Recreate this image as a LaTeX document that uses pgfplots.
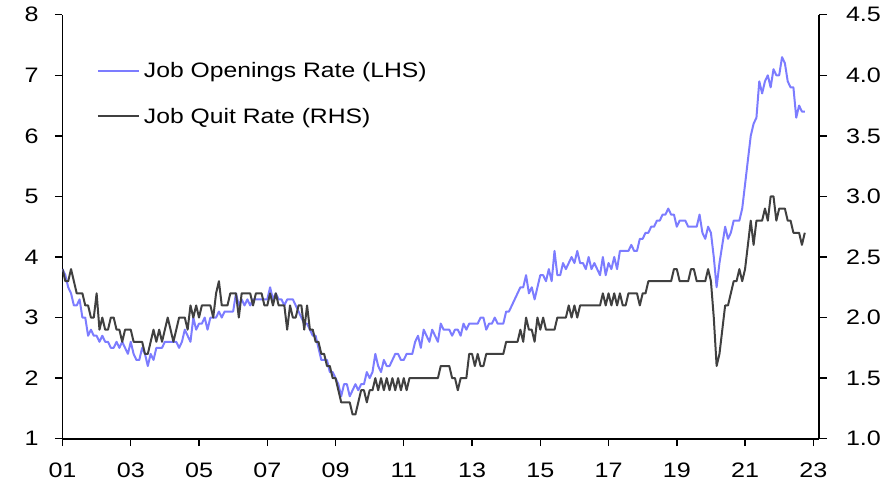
\documentclass[border=0pt]{standalone}
\usepackage{graphicx}
\usepackage{fontspec}
\setmainfont{Liberation Sans}
\usepackage{pgfplots}
\pgfplotsset{compat=1.18}
\usepackage{pgfplotstable}
\definecolor{openblue}{RGB}{124,124,255}
\definecolor{quitgray}{RGB}{64,64,64}
\newcommand{\hs}[1]{\scalebox{1.18}[1.0]{#1}}
\newcommand{\ts}[1]{\scalebox{1.2}[1.0]{#1}}

% m = months since Jan 2001; open = job openings rate (LHS); quit = quit rate (RHS)
\pgfplotstableread{
m open quit
0 3.8 2.4
1 3.7 2.3
2 3.5 2.3
3 3.4 2.4
4 3.2 2.3
5 3.2 2.2
6 3.3 2.2
7 3.0 2.2
8 3.0 2.1
9 2.7 2.1
10 2.8 2.0
11 2.7 2.0
12 2.7 2.2
13 2.6 1.9
14 2.7 2.0
15 2.6 1.9
16 2.6 1.9
17 2.5 2.0
18 2.5 2.0
19 2.6 1.9
20 2.5 1.9
21 2.6 1.8
22 2.5 1.9
23 2.4 1.9
24 2.6 1.9
25 2.4 1.8
26 2.3 1.8
27 2.3 1.8
28 2.5 1.8
29 2.4 1.7
30 2.2 1.7
31 2.4 1.8
32 2.3 1.9
33 2.5 1.8
34 2.5 1.9
35 2.5 1.8
36 2.6 1.9
37 2.6 2.0
38 2.6 1.9
39 2.6 1.8
40 2.6 1.9
41 2.5 2.0
42 2.6 2.0
43 2.8 2.0
44 2.7 1.9
45 2.6 2.1
46 3.0 2.0
47 2.8 2.1
48 2.9 2.0
49 2.9 2.1
50 3.0 2.1
51 2.8 2.1
52 3.0 2.1
53 3.0 2.0
54 3.0 2.2
55 3.1 2.3
56 3.0 2.1
57 3.1 2.1
58 3.1 2.1
59 3.1 2.2
60 3.1 2.2
61 3.4 2.2
62 3.2 2.0
63 3.3 2.2
64 3.2 2.2
65 3.3 2.2
66 3.2 2.2
67 3.3 2.1
68 3.3 2.2
69 3.3 2.2
70 3.3 2.2
71 3.3 2.1
72 3.3 2.1
73 3.5 2.2
74 3.3 2.1
75 3.4 2.2
76 3.3 2.1
77 3.3 2.1
78 3.2 2.1
79 3.3 1.9
80 3.3 2.1
81 3.3 2.0
82 3.2 2.0
83 3.1 2.1
84 3.0 2.1
85 2.9 1.9
86 2.9 2.1
87 2.8 1.9
88 2.7 1.9
89 2.7 1.8
90 2.5 1.8
91 2.3 1.7
92 2.3 1.7
93 2.3 1.6
94 2.1 1.6
95 2.1 1.5
96 2.0 1.5
97 1.9 1.4
98 1.7 1.3
99 1.9 1.3
100 1.9 1.3
101 1.7 1.3
102 1.8 1.2
103 1.9 1.2
104 1.8 1.3
105 1.9 1.4
106 1.9 1.4
107 2.1 1.3
108 2.0 1.4
109 2.1 1.4
110 2.4 1.5
111 2.2 1.4
112 2.1 1.5
113 2.3 1.4
114 2.2 1.5
115 2.2 1.4
116 2.3 1.5
117 2.4 1.4
118 2.4 1.5
119 2.3 1.4
120 2.3 1.5
121 2.4 1.4
122 2.4 1.5
123 2.4 1.5
124 2.6 1.5
125 2.7 1.5
126 2.5 1.5
127 2.8 1.5
128 2.7 1.5
129 2.6 1.5
130 2.8 1.5
131 2.7 1.5
132 2.6 1.5
133 2.9 1.6
134 2.8 1.6
135 2.8 1.6
136 2.8 1.6
137 2.7 1.5
138 2.8 1.5
139 2.8 1.4
140 2.7 1.5
141 2.9 1.5
142 2.8 1.5
143 2.9 1.7
144 2.9 1.7
145 2.9 1.6
146 2.9 1.7
147 3.0 1.6
148 3.0 1.6
149 2.8 1.7
150 2.9 1.7
151 2.9 1.7
152 3.0 1.7
153 2.9 1.7
154 2.9 1.7
155 2.9 1.7
156 3.1 1.8
157 3.1 1.8
158 3.2 1.8
159 3.3 1.8
160 3.4 1.8
161 3.5 1.9
162 3.5 1.8
163 3.7 2.0
164 3.4 1.9
165 3.5 1.9
166 3.3 1.8
167 3.5 2.0
168 3.7 1.9
169 3.7 2.0
170 3.6 1.9
171 3.8 1.9
172 3.6 1.9
173 4.1 1.9
174 3.7 2.0
175 3.7 2.0
176 3.9 2.0
177 3.8 2.0
178 3.9 2.1
179 4.0 2.0
180 3.9 2.1
181 4.1 2.0
182 3.9 2.1
183 3.9 2.1
184 3.8 2.1
185 4.0 2.1
186 3.8 2.1
187 3.9 2.1
188 3.8 2.1
189 3.7 2.1
190 4.0 2.2
191 3.7 2.1
192 3.9 2.2
193 3.8 2.1
194 4.0 2.2
195 3.8 2.1
196 4.1 2.2
197 4.1 2.1
198 4.1 2.1
199 4.1 2.2
200 4.2 2.2
201 4.1 2.2
202 4.1 2.2
203 4.3 2.1
204 4.3 2.2
205 4.4 2.2
206 4.4 2.3
207 4.5 2.3
208 4.5 2.3
209 4.6 2.3
210 4.6 2.3
211 4.7 2.3
212 4.7 2.3
213 4.8 2.3
214 4.7 2.3
215 4.7 2.4
216 4.5 2.4
217 4.6 2.3
218 4.6 2.3
219 4.6 2.3
220 4.5 2.3
221 4.5 2.4
222 4.5 2.4
223 4.5 2.3
224 4.7 2.3
225 4.4 2.3
226 4.3 2.3
227 4.5 2.4
228 4.4 2.3
229 4.0 2.0
230 3.5 1.6
231 3.9 1.7
232 4.2 1.9
233 4.5 2.1
234 4.3 2.1
235 4.4 2.2
236 4.6 2.3
237 4.6 2.3
238 4.6 2.4
239 4.8 2.3
240 5.2 2.4
241 5.6 2.6
242 6.0 2.8
243 6.2 2.6
244 6.3 2.8
245 6.9 2.8
246 6.7 2.8
247 6.9 2.9
248 7.0 2.8
249 6.8 3.0
250 7.1 3.0
251 7.0 2.8
252 7.0 2.9
253 7.3 2.9
254 7.2 2.9
255 6.9 2.8
256 6.8 2.8
257 6.8 2.7
258 6.3 2.7
259 6.5 2.7
260 6.4 2.6
261 6.4 2.7
}\jolts

\pgfplotsset{
  common/.style={
    at={(0,0)}, anchor=south west,
    scale only axis, width=756.5bp, height=424bp,
    xmin=0, xmax=266,
    tick align=outside, major tick length=7.5bp,
    tick style={black, line width=1.4bp},
    axis line style={black, line width=1.6bp},
    every tick label/.append style={font=\fontsize{21}{25}\selectfont},
    /pgf/number format/assume math mode=true,
  }
}

\begin{document}
\begin{tikzpicture}
\begin{axis}[common,
  ymin=1, ymax=8, ytick={1,2,...,8},
  axis y line*=left, axis x line*=bottom,
  xtick={0,24,...,264},
  xticklabels={\ts{01},\ts{03},\ts{05},\ts{07},\ts{09},\ts{11},\ts{13},\ts{15},\ts{17},\ts{19},\ts{21},\ts{23}},
  yticklabel={\ts{\pgfmathprintnumber{\tick}}},
  yticklabel style={xshift=-13bp},
  xticklabel style={yshift=-13bp},
]
\addplot[openblue, line width=2bp, line join=round] table[x=m, y=open] {\jolts};
\end{axis}
\begin{axis}[common,
  ymin=1, ymax=4.5, ytick={1,1.5,...,4.5},
  axis y line*=right, axis x line=none,
  yticklabel={\ts{\pgfmathprintnumber[fixed,fixed zerofill,precision=1]{\tick}}},
  yticklabel style={anchor=west, xshift=16bp},
  legend cell align=left,
  legend style={draw=none, fill=none, at={(0.0456,0.8142)}, anchor=west,
    inner sep=0pt, outer sep=0pt, row sep=29bp, column sep=4bp,
    nodes={inner sep=0pt}, font=\fontsize{21}{25}\selectfont},
  legend image code/.code={\draw[#1] (0bp,0bp) -- (41bp,0bp);},
]
\addlegendimage{openblue, line width=2bp}
\addlegendentry{\hs{Job Openings Rate (LHS)}}
\addplot[quitgray, line width=2bp, line join=round] table[x=m, y=quit] {\jolts};
\addlegendentry{\hs{Job Quit Rate (RHS)}}
\end{axis}
\pgfresetboundingbox
\useasboundingbox (-62.5bp,-51.3bp) rectangle (821.5bp,438.7bp);
\end{tikzpicture}
\end{document}
